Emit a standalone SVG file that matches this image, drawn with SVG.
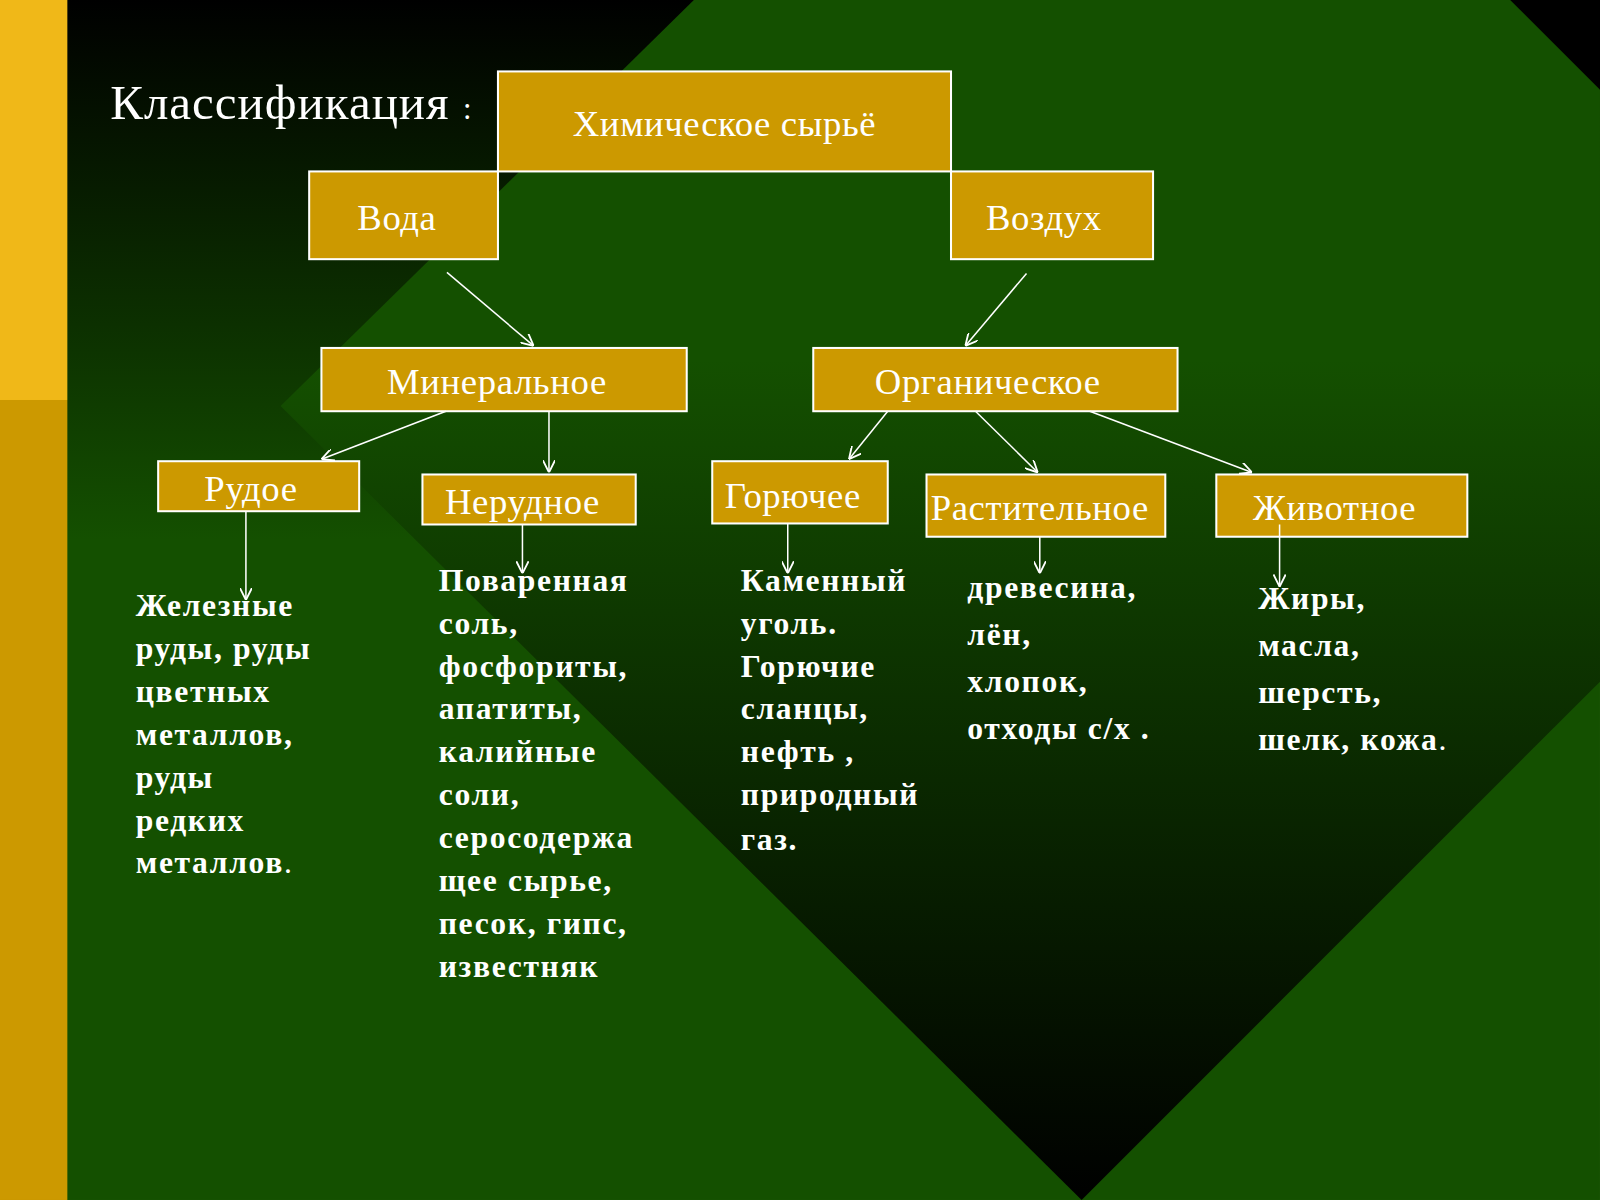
<svg xmlns="http://www.w3.org/2000/svg" width="1600" height="1200" viewBox="0 0 1600 1200">
<defs>
<linearGradient id="bg" x1="0" y1="0" x2="0" y2="1"><stop offset="0" stop-color="#000"/><stop offset="0.45" stop-color="#145000"/><stop offset="1" stop-color="#145000"/></linearGradient>
<linearGradient id="dia" x1="0" y1="0" x2="0" y2="1"><stop offset="0" stop-color="#145000"/><stop offset="0.3" stop-color="#145000"/><stop offset="1" stop-color="#000"/></linearGradient>
<marker id="ar" viewBox="0 0 10 10" refX="10" refY="5" markerWidth="8" markerHeight="8" orient="auto-start-reverse"><path d="M0,0 L10,5 L0,10" fill="none" stroke="#fff" stroke-width="1.5"/></marker>
<style>
.box{fill:#cc9900;stroke:#fff;stroke-width:2}
.bt{font-family:"Liberation Serif",serif;font-size:36px;fill:#fff;letter-spacing:0.6px}
.lt{font-family:"Liberation Serif",serif;font-size:31px;font-weight:bold;fill:#fff;letter-spacing:1.6px}
.c{stroke:#fff;stroke-width:1.5;fill:none;marker-end:url(#ar)}
</style>
</defs>
<g transform="scale(1.0204)">
<rect x="0" y="0" width="1568" height="1176" fill="url(#bg)"/>
<polygon points="1480,0 1568,0 1568,88" fill="#000"/>
<polygon points="680,0 1480,0 1568,88 1568,668 1060,1176 275,398" fill="url(#dia)"/>
<rect x="0" y="0" width="66" height="392" fill="#f0b818"/>
<rect x="0" y="392" width="66" height="784" fill="#cc9900"/>
<text x="108" y="117" font-family="Liberation Serif,serif" font-size="48" fill="#fff" letter-spacing="1">Классификация <tspan font-size="30">:</tspan></text>
<g id="n-root"><rect class="box" x="488" y="70" width="444" height="98"/><text class="bt" x="710" y="133" text-anchor="middle">Химическое  сырьё</text></g>
<g id="n-voda"><rect class="box" x="303" y="168" width="185" height="86"/><text class="bt" x="389" y="225" text-anchor="middle">Вода</text></g>
<g id="n-vozduh"><rect class="box" x="932" y="168" width="198" height="86"/><text class="bt" x="1023" y="225" text-anchor="middle">Воздух</text></g>
<g id="n-min"><rect class="box" x="315" y="341" width="358" height="62"/><text class="bt" x="487" y="386" text-anchor="middle">Минеральное</text></g>
<g id="n-org"><rect class="box" x="797" y="341" width="357" height="62"/><text class="bt" x="968" y="386" text-anchor="middle">Органическое</text></g>
<g id="n-rud"><rect class="box" x="155" y="452" width="197" height="49"/><text class="bt" x="246" y="491" text-anchor="middle">Рудое</text></g>
<g id="n-nerud"><rect class="box" x="414" y="465" width="209" height="49"/><text class="bt" x="512" y="504" text-anchor="middle">Нерудное</text></g>
<g id="n-gor"><rect class="box" x="698" y="452" width="172" height="61"/><text class="bt" x="777" y="498" text-anchor="middle">Горючее</text></g>
<g id="n-rast"><rect class="box" x="908" y="465" width="234" height="61"/><text class="bt" x="1019" y="510" text-anchor="middle">Растительное</text></g>
<g id="n-zhiv"><rect class="box" x="1192" y="465" width="246" height="61"/><text class="bt" x="1308" y="510" text-anchor="middle">Животное</text></g>
<g id="connectors">
<line class="c" x1="438" y1="267" x2="523" y2="339"/>
<line class="c" x1="1006" y1="268" x2="946" y2="339"/>
<line class="c" x1="437" y1="403" x2="315" y2="450"/>
<line class="c" x1="538" y1="403" x2="538" y2="463"/>
<line class="c" x1="870" y1="403" x2="832" y2="450"/>
<line class="c" x1="956" y1="403" x2="1017" y2="463"/>
<line class="c" x1="1068" y1="403" x2="1227" y2="463"/>
<line class="c" x1="241" y1="501" x2="241" y2="588"/>
<line class="c" x1="512" y1="514" x2="512" y2="562"/>
<line class="c" x1="772" y1="513" x2="772" y2="562"/>
<line class="c" x1="1019" y1="526" x2="1019" y2="562"/>
<line class="c" x1="1254" y1="514" x2="1254" y2="575"/>
</g>
<text class="lt" x="133" y="604">Железные<tspan x="133" dy="42">руды, руды</tspan><tspan x="133" dy="42">цветных</tspan><tspan x="133" dy="42">металлов,</tspan><tspan x="133" dy="42">руды</tspan><tspan x="133" dy="42">редких</tspan><tspan x="133" dy="42">металлов<tspan font-weight="normal">.</tspan></tspan></text>
<text class="lt" x="430" y="579">Поваренная<tspan x="430" dy="42">соль,</tspan><tspan x="430" dy="42">фосфориты,</tspan><tspan x="430" dy="42">апатиты,</tspan><tspan x="430" dy="42">калийные</tspan><tspan x="430" dy="42">соли,</tspan><tspan x="430" dy="42">серосодержа</tspan><tspan x="430" dy="42">щее сырье,</tspan><tspan x="430" dy="42">песок, гипс,</tspan><tspan x="430" dy="42">известняк</tspan></text>
<text class="lt" x="726" y="579">Каменный<tspan x="726" dy="42">уголь.</tspan><tspan x="726" dy="42">Горючие</tspan><tspan x="726" dy="42">сланцы,</tspan><tspan x="726" dy="42">нефть ,</tspan><tspan x="726" dy="42">природный</tspan><tspan x="726" dy="44">газ.</tspan></text>
<text class="lt" x="948" y="586" font-size="34">древесина,<tspan x="948" dy="46">лён,</tspan><tspan x="948" dy="46">хлопок,</tspan><tspan x="948" dy="46">отходы  с/х .</tspan></text>
<text class="lt" x="1233" y="597" font-size="34">Жиры,<tspan x="1233" dy="46">масла,</tspan><tspan x="1233" dy="46">шерсть,</tspan><tspan x="1233" dy="46">шелк, кожа<tspan font-weight="normal">.</tspan></tspan></text>
</g>
</svg>
